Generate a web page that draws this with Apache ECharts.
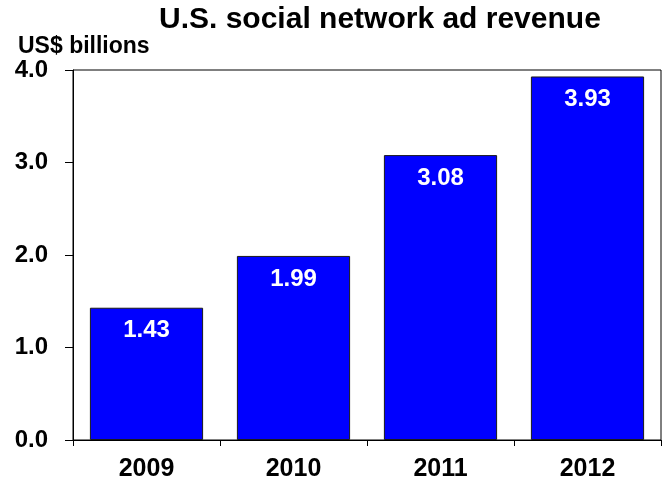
<!DOCTYPE html>
<html>
<head>
<meta charset="utf-8">
<script src="https://cdn.jsdelivr.net/npm/echarts@6/dist/echarts.min.js"></script>
<style>
  html, body { margin: 0; padding: 0; background: #fff; }
  #chart { width: 665px; height: 482px; }
</style>
</head>
<body>
<div id="chart"></div>
<script>
// U.S. social network ad revenue, US$ billions
const years = ['2009', '2010', '2011', '2012'];
const revenue = [1.43, 1.99, 3.08, 3.93];
const yTicks = [0, 1, 2, 3, 4];

const FONT = '"Liberation Sans", Arial, sans-serif';

const chart = echarts.init(document.getElementById('chart'), null, { renderer: 'canvas' });

chart.setOption({
  animation: false,
  backgroundColor: '#ffffff',
  title: [
    {
      text: 'U.S. social network ad revenue',
      left: 154,
      top: 0,
      textStyle: { fontFamily: FONT, fontWeight: 'bold', fontSize: 30, color: '#000' }
    },
    {
      text: 'US$ billions',
      left: 13,
      top: 30,
      textStyle: { fontFamily: FONT, fontWeight: 'bold', fontSize: 23, color: '#000' }
    }
  ],
  grid: {
    left: 73,
    right: 4,
    top: 70,
    bottom: 42,
    show: true,
    borderColor: '#000',
    borderWidth: 1,
    containLabel: false
  },
  xAxis: {
    type: 'category',
    data: years,
    axisLine: { lineStyle: { color: '#000', width: 1 } },
    axisTick: { show: true, length: 6, alignWithLabel: false, lineStyle: { color: '#000' } },
    axisLabel: {
      margin: 17,
      fontFamily: FONT, fontWeight: 'bold', fontSize: 25, color: '#000'
    }
  },
  yAxis: {
    type: 'value',
    min: yTicks[0],
    max: yTicks[yTicks.length - 1],
    interval: 1,
    splitLine: { show: false },
    axisLine: { show: true, lineStyle: { color: '#000', width: 1 } },
    axisTick: { show: true, length: 8, lineStyle: { color: '#000' } },
    axisLabel: {
      margin: 25,
      formatter: v => v.toFixed(1),
      fontFamily: FONT, fontWeight: 'bold', fontSize: 24, color: '#000'
    }
  },
  series: [{
    type: 'bar',
    data: revenue,
    barCategoryGap: '23%',
    itemStyle: { color: '#0000ff', borderColor: '#1a1a1a', borderWidth: 1 },
    label: {
      show: true,
      position: 'insideTop',
      distance: 11,
      formatter: p => p.value.toFixed(2),
      fontFamily: FONT, fontWeight: 'bold', fontSize: 24, color: '#fff'
    }
  }]
});
</script>
</body>
</html>
